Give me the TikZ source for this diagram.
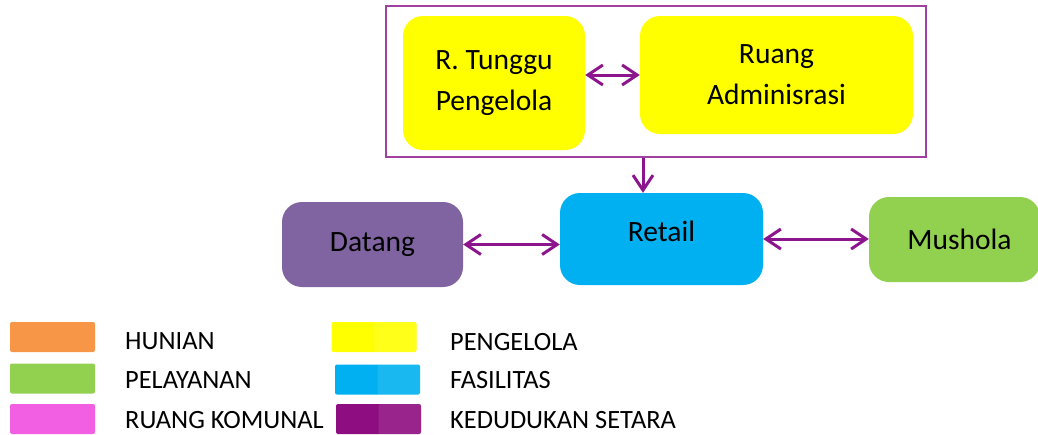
\documentclass[tikz,border=0pt]{standalone}
\usepackage{fontspec}
\setmainfont{Carlito}
\usetikzlibrary{arrows.meta}

\definecolor{hunian}{HTML}{F79646}
\definecolor{pelayanan}{HTML}{92D050}
\definecolor{komunal}{HTML}{F35FE2}
\definecolor{pengelola}{HTML}{FFFF00}
\definecolor{fasilitas}{HTML}{00B0F0}
\definecolor{setara}{HTML}{8E0D80}
\definecolor{datang}{HTML}{8064A2}
\definecolor{panah}{HTML}{8C148C}
\definecolor{bingkai}{HTML}{A040A0}

\tikzset{
  room/.style={rounded corners=20pt, align=center, inner sep=0pt,
    font=\fontsize{29.5}{41}\selectfont},
  swatch/.style={rounded corners=2pt, minimum width=85pt, minimum height=30pt, inner sep=0pt},
  legtext/.style={anchor=west, inner sep=0pt, text depth=0pt, font=\fontsize{26.4}{30}\selectfont},
  arr/.style={panah, line width=3pt, {Straight Barb[length=15pt,width=20pt]}-{Straight Barb[length=15pt,width=20pt]}},
}

\begin{document}
\begin{tikzpicture}[x=1pt,y=-1pt]
  \useasboundingbox (0,0) rectangle (1038,434);

  % pengelola group
  \node[draw=bingkai, line width=1.5pt, minimum width=540pt, minimum height=151pt] (kelola) at (656,81.5) {};
  \node[room, fill=pengelola, minimum width=182pt, minimum height=134pt] (tunggu) at (494,83) {R. Tunggu\\Pengelola};
  \node[room, fill=pengelola, minimum width=273pt, minimum height=118pt] (admin) at (776.5,75) {Ruang\\Adminisrasi};

  % lower row
  \node[room, fill=fasilitas, minimum width=203pt, minimum height=92pt] (retail) at (661.5,239) {};
  \node[font=\fontsize{29.5}{41}\selectfont] (retailtxt) at ([yshift=8pt]retail.center) {Retail};
  \node[room, fill=datang, minimum width=181pt, minimum height=85pt] (datang) at (372.5,244.5) {Datang};
  \node[room, fill=pelayanan, minimum width=171pt, minimum height=85pt] (mushola) at (954.5,239.5) {\hspace*{10pt}Mushola};
  \coordinate (turun) at (643,0);

  \path[arr]
    (tunggu.east |- admin.west) edge (admin.west)
    (datang.east) edge (datang.east -| retail.west)
    (retail.east) edge (retail.east -| mushola.west);
  \draw[panah, line width=3pt, -{Straight Barb[length=15pt,width=20pt]}]
    (kelola.south -| turun) -- (retail.north -| turun);

  % legend
  \foreach \warna/\teks/\y/\ty in {hunian/HUNIAN/337/341.5, pelayanan/PELAYANAN/378.5/380, komunal/RUANG KOMUNAL/419/420}
  {
    \node[swatch, fill=\warna] (sw-\warna) at (52.5,\y) {};
    \node[legtext] (lbl-\warna) at (125,\ty) {\teks};
  }
  \foreach \warna/\teks/\x/\y/\ty in {pengelola/PENGELOLA/374/337/341.5, fasilitas/FASILITAS/377.5/379.5/380, setara/KEDUDUKAN SETARA/378.5/419/420}
  {
    \node[swatch, fill=\warna, path picture={\fill[white, opacity=0.1]
      (path picture bounding box.north) rectangle (path picture bounding box.south east);}] (sw-\warna) at (\x,\y) {};
    \node[legtext] (lbl-\warna) at (450,\ty) {\teks};
  }
\end{tikzpicture}
\end{document}
